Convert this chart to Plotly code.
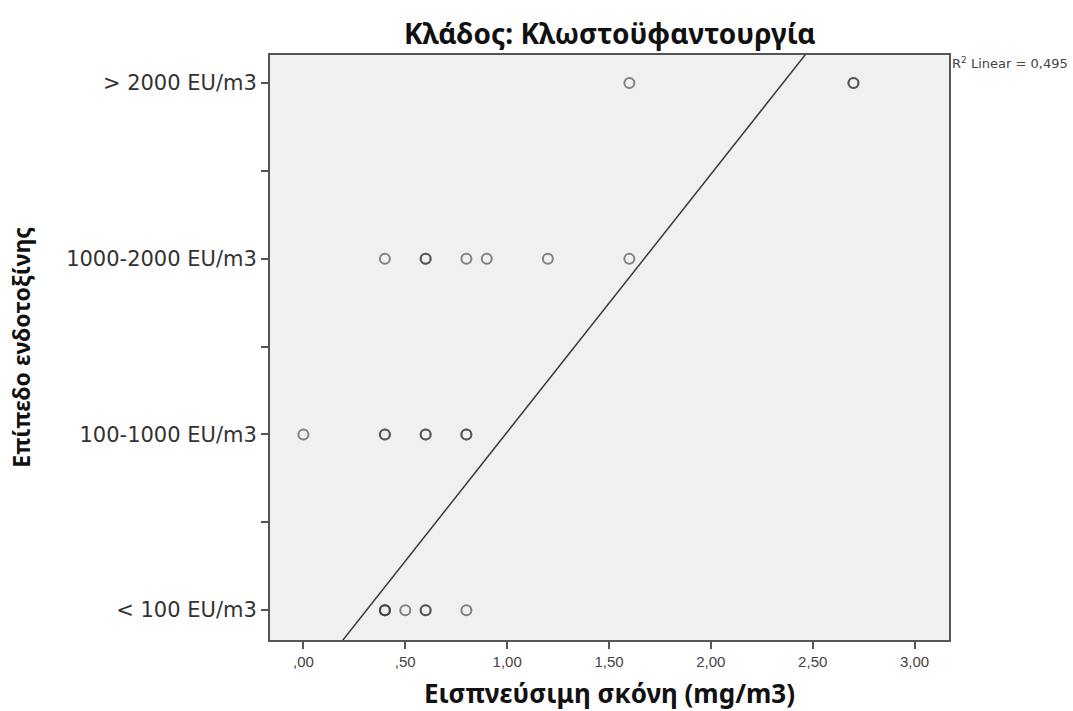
import plotly.graph_objects as go

# ---- data ----
categories = ["< 100 EU/m3", "100-1000 EU/m3", "1000-2000 EU/m3", "> 2000 EU/m3"]
category_levels = [1, 2, 3, 4]

dust_lt100 = [0.4, 0.5, 0.6, 0.8]
count_lt100 = [3, 1, 2, 1]
dust_100_1000 = [0.0, 0.4, 0.6, 0.8]
count_100_1000 = [1, 2, 2, 2]
dust_1000_2000 = [0.4, 0.6, 0.8, 0.9, 1.2, 1.6]
count_1000_2000 = [1, 2, 1, 1, 1, 1]
dust_gt2000 = [1.6, 2.7]
count_gt2000 = [1, 2]

fit_slope = 1.468
fit_intercept = 0.545
r2_text = "R<sup>2</sup> Linear = 0,495"

x_tick_vals = [0.0, 0.5, 1.0, 1.5, 2.0, 2.5, 3.0]
x_tick_text = [",00", ",50", "1,00", "1,50", "2,00", "2,50", "3,00"]

x_range = [-0.164, 3.169]
y_range = [0.83, 4.16]

# ---- build ----
fig = go.Figure()

groups = [
    (dust_lt100, count_lt100, category_levels[0]),
    (dust_100_1000, count_100_1000, category_levels[1]),
    (dust_1000_2000, count_1000_2000, category_levels[2]),
    (dust_gt2000, count_gt2000, category_levels[3]),
]
for xs, cs, lvl in groups:
    px, py = [], []
    for xv, c in zip(xs, cs):
        for _ in range(c):
            px.append(xv)
            py.append(lvl)
    fig.add_trace(go.Scatter(
        x=px, y=py, mode="markers",
        marker=dict(symbol="circle-open", size=10,
                    color="rgba(55,55,55,0.6)",
                    line=dict(width=2, color="rgba(55,55,55,0.6)")),
        showlegend=False, hoverinfo="skip"))

fx = [x_range[0], x_range[1]]
fy = [fit_slope * v + fit_intercept for v in fx]
fig.add_trace(go.Scatter(x=fx, y=fy, mode="lines",
                         line=dict(color="#3a3a3a", width=1.5),
                         showlegend=False, hoverinfo="skip"))

y_minor_vals = [(a + b) / 2 for a, b in zip(category_levels[:-1], category_levels[1:])]

fig.update_layout(
    width=1073, height=711,
    margin=dict(l=270, r=124, t=55, b=71),
    paper_bgcolor="white",
    plot_bgcolor="#F0F0F0",
    font=dict(family="DejaVu Sans", color="#333333"),
    xaxis=dict(range=x_range, tickvals=x_tick_vals, ticktext=x_tick_text,
               showgrid=False, zeroline=False, showline=True, mirror=True,
               linecolor="#555555", linewidth=2,
               ticks="outside", ticklen=7, tickwidth=2, tickcolor="#555555",
               tickfont=dict(family="Liberation Sans", size=15, color="#444444")),
    yaxis=dict(range=y_range, tickvals=category_levels, ticktext=categories,
               showgrid=False, zeroline=False, showline=True, mirror=True,
               linecolor="#555555", linewidth=2,
               ticks="outside", ticklen=7, tickwidth=2, tickcolor="#555555",
               minor=dict(tickvals=y_minor_vals, ticks="outside", ticklen=7,
                          tickwidth=2, tickcolor="#555555", showgrid=False),
               tickfont=dict(family="DejaVu Sans", size=21, color="#333333")),
    annotations=[
        dict(text="<b>Κλάδος: Κλωστοϋφαντουργία</b>", xref="paper", yref="paper",
             x=0.5, y=1.0376, xanchor="center", yanchor="middle", showarrow=False,
             font=dict(family="Noto Sans", size=28, color="#111111")),
        dict(text="<b>Εισπνεύσιμη σκόνη (mg/m3)</b>", xref="paper", yref="paper",
             x=0.5, y=-0.0906, xanchor="center", yanchor="middle", showarrow=False,
             font=dict(family="Noto Sans", size=26, color="#111111")),
        dict(text="<b>Επίπεδο ενδοτοξίνης</b>", xref="paper", yref="paper",
             x=-0.368, y=0.5, xanchor="center", yanchor="middle", showarrow=False,
             textangle=-90,
             font=dict(family="Noto Sans", size=23, color="#111111")),
        dict(text=r2_text, xref="paper", yref="paper",
             x=1.001, y=0.986, xanchor="left", yanchor="middle", showarrow=False,
             font=dict(family="DejaVu Sans", size=13, color="#444444")),
    ],
)

fig.write_html("out.html",
               config={"displayModeBar": False},
               post_script="document.body.style.margin='0';document.body.style.overflow='hidden';")
